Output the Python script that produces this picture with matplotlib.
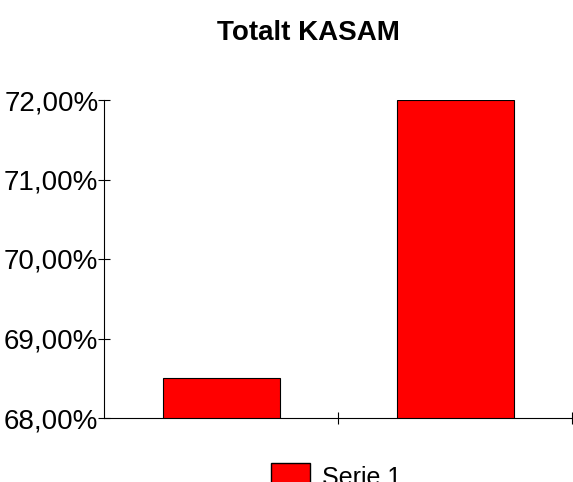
import matplotlib.pyplot as plt
from matplotlib.patches import Patch
from matplotlib.ticker import FuncFormatter, FixedLocator

plt.rcParams['font.family'] = ['Liberation Sans', 'DejaVu Sans']

categories = ['A', 'B']
values = [68.5, 72.0]
series_name = 'Serie 1'
y_ticks = [68, 69, 70, 71, 72]

fig = plt.figure(figsize=(5.73, 4.82), dpi=100)
ax = fig.add_axes([104 / 573, 1 - 418 / 482, (572 - 104) / 573, (418 - 100) / 482])

x = list(range(len(categories)))
ax.bar(x, values, width=0.5, color='#ff0000', edgecolor='black', linewidth=0.8)

ax.set_xlim(-0.5, len(categories) - 0.5)
ax.set_ylim(68, 72)
ax.set_yticks(y_ticks)
ax.yaxis.set_major_formatter(FuncFormatter(lambda v, p: f'{v:.2f}'.replace('.', ',') + '%'))
ax.xaxis.set_major_locator(FixedLocator([0.5, 1.5]))
ax.set_xticklabels([])

for s in ['top', 'right']:
    ax.spines[s].set_visible(False)
for s in ['left', 'bottom']:
    ax.spines[s].set_color('black')
    ax.spines[s].set_linewidth(0.8)
ax.tick_params(axis='y', direction='inout', length=8, labelsize=20, pad=0)
ax.tick_params(axis='x', direction='inout', length=8)

fig.text(308 / 573, 1 - 33 / 482, 'Totalt KASAM', ha='center', va='center',
         fontsize=20, fontweight='bold')

fig.legend(handles=[Patch(facecolor='#ff0000', edgecolor='black', label=series_name)],
           loc='upper left', bbox_to_anchor=(271 / 573, 1 - 463 / 482), frameon=False,
           fontsize=18, handlelength=1.56, handleheight=1.25, handletextpad=0.48,
           borderpad=0, borderaxespad=0)

fig.savefig('out.png', dpi=100)
